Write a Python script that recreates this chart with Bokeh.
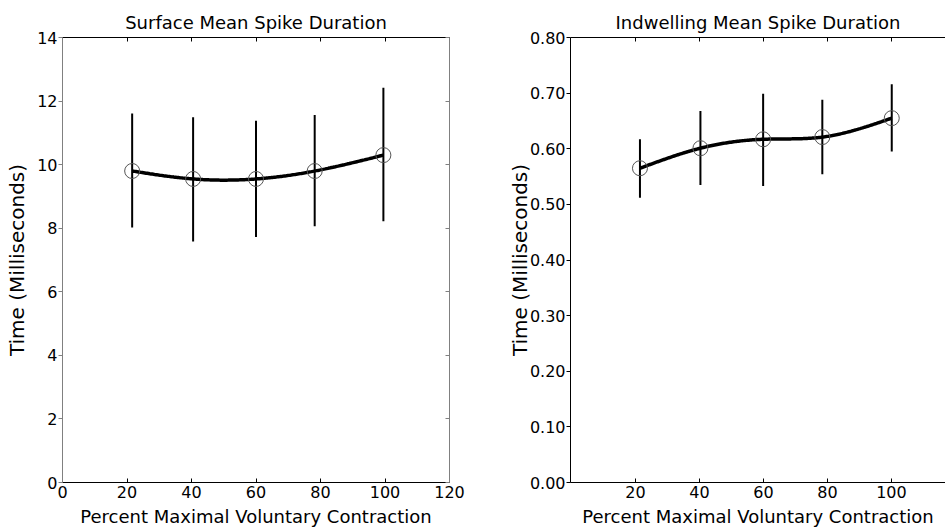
import numpy as np
from bokeh.plotting import figure
from bokeh.layouts import row
from bokeh.models import LinearAxis, FixedTicker, NumeralTickFormatter, Range1d
from bokeh.embed import file_html
from bokeh.resources import INLINE

# ---- data ----
surf_pct = [21.6, 40.5, 60.0, 78.2, 99.5]
surf_mean = [9.80, 9.55, 9.55, 9.80, 10.30]
surf_lower = [8.02, 7.58, 7.72, 8.06, 8.22]
surf_upper = [11.61, 11.49, 11.38, 11.56, 12.42]

ind_pct = [21.4, 40.3, 59.9, 78.4, 100.1]
ind_mean = [0.565, 0.601, 0.617, 0.621, 0.655]
ind_lower = [0.512, 0.535, 0.533, 0.554, 0.595]
ind_upper = [0.617, 0.668, 0.699, 0.688, 0.716]

surf_xticks = [0, 20, 40, 60, 80, 100, 120]
surf_yticks = [0, 2, 4, 6, 8, 10, 12, 14]
ind_xticks = [20, 40, 60, 80, 100]
ind_yticks = [0.0, 0.1, 0.2, 0.3, 0.4, 0.5, 0.6, 0.7, 0.8]

FONT = "DejaVu Sans"
TICK_FS = "16px"
LAB_FS = "18px"
YLAB_FS = "20px"


def natural_spline(x, y, n=200):
    x = np.asarray(x, float)
    y = np.asarray(y, float)
    k = len(x)
    h = np.diff(x)
    A = np.zeros((k, k))
    r = np.zeros(k)
    A[0, 0] = A[-1, -1] = 1
    for i in range(1, k - 1):
        A[i, i - 1] = h[i - 1]
        A[i, i] = 2 * (h[i - 1] + h[i])
        A[i, i + 1] = h[i]
        r[i] = 3 * ((y[i + 1] - y[i]) / h[i] - (y[i] - y[i - 1]) / h[i - 1])
    c = np.linalg.solve(A, r)
    xs = np.linspace(x[0], x[-1], n)
    idx = np.clip(np.searchsorted(x, xs) - 1, 0, k - 2)
    dx = xs - x[idx]
    b = (y[1:] - y[:-1]) / h - h * (2 * c[:-1] + c[1:]) / 3
    d = (c[1:] - c[:-1]) / (3 * h)
    ys = y[idx] + b[idx] * dx + c[idx] * dx ** 2 + d[idx] * dx ** 3
    return xs, ys


def style_axis(ax, color, tick_in, tick_out, labels=True):
    ax.axis_line_color = color
    ax.major_tick_line_color = color
    ax.major_tick_in = tick_in
    ax.major_tick_out = tick_out
    ax.minor_tick_line_color = None
    ax.major_label_text_font = FONT
    ax.major_label_text_font_size = TICK_FS if labels else "0px"
    ax.major_label_text_color = "black"
    ax.axis_label_text_font = FONT
    ax.axis_label_text_font_size = LAB_FS
    ax.axis_label_text_font_style = "normal"
    ax.axis_label_text_color = "black"


def make(title, xr, yr, xticks, yticks, pct, mean, lower, upper, width,
         mbl, mbr, edge_color, yfmt, right_axis, ylab_standoff):
    p = figure(width=width, height=529, x_range=Range1d(*xr), y_range=Range1d(*yr),
               output_backend="svg", toolbar_location=None,
               min_border_left=mbl, min_border_right=mbr,
               min_border_top=37, min_border_bottom=44, title=title)
    p.background_fill_color = "white"
    p.border_fill_color = "white"
    p.outline_line_color = None
    p.xgrid.visible = False
    p.ygrid.visible = False
    p.title.text_font = FONT
    p.title.text_font_size = LAB_FS
    p.title.text_font_style = "normal"
    p.title.text_color = "black"
    p.title.align = "center"
    p.title.standoff = 9

    xa = p.xaxis[0]
    xa.ticker = FixedTicker(ticks=xticks)
    style_axis(xa, "black", 4, 0)
    xa.major_label_standoff = 3
    xa.axis_label = "Percent Maximal Voluntary Contraction"
    xa.axis_label_standoff = 5

    ya = p.yaxis[0]
    ya.ticker = FixedTicker(ticks=yticks)
    style_axis(ya, edge_color, 0, 4)
    ya.major_label_standoff = 1
    ya.axis_label = "Time (Milliseconds)"
    ya.axis_label_text_font_size = YLAB_FS
    ya.axis_label_standoff = ylab_standoff
    if yfmt:
        ya.formatter = NumeralTickFormatter(format=yfmt)

    top = LinearAxis(ticker=FixedTicker(ticks=xticks))
    style_axis(top, edge_color, 4, 0, labels=False)
    top.major_label_standoff = 0
    p.add_layout(top, "above")

    if right_axis:
        ra = LinearAxis(ticker=FixedTicker(ticks=yticks))
        style_axis(ra, edge_color, 4, 0, labels=False)
        ra.major_label_standoff = 0
        p.add_layout(ra, "right")

    p.segment(x0=pct, y0=lower, x1=pct, y1=upper, line_color="black", line_width=2)
    xs, ys = natural_spline(pct, mean)
    p.line(xs, ys, line_color="black", line_width=3.5)
    p.scatter(pct, mean, marker="circle", size=15, fill_color=None,
              line_color="#555555", line_width=1)
    return p


p1 = make("Surface Mean Spike Duration", (0, 120), (0, 14), surf_xticks, surf_yticks,
          surf_pct, surf_mean, surf_lower, surf_upper, 490, 62, 41, "#808080", None,
          True, 5)
p1.xaxis[0].axis_line_color = "black"
p1.xaxis[0].major_tick_line_color = "black"

p2 = make("Indwelling Mean Spike Duration", (-0.31, 116.9), (0, 0.8), ind_xticks, ind_yticks,
          ind_pct, ind_mean, ind_lower, ind_upper, 455, 80, 0, "black", "0.00",
          False, -5)

layout = row(p1, p2)
open("out.html", "w").write(file_html(layout, INLINE))
